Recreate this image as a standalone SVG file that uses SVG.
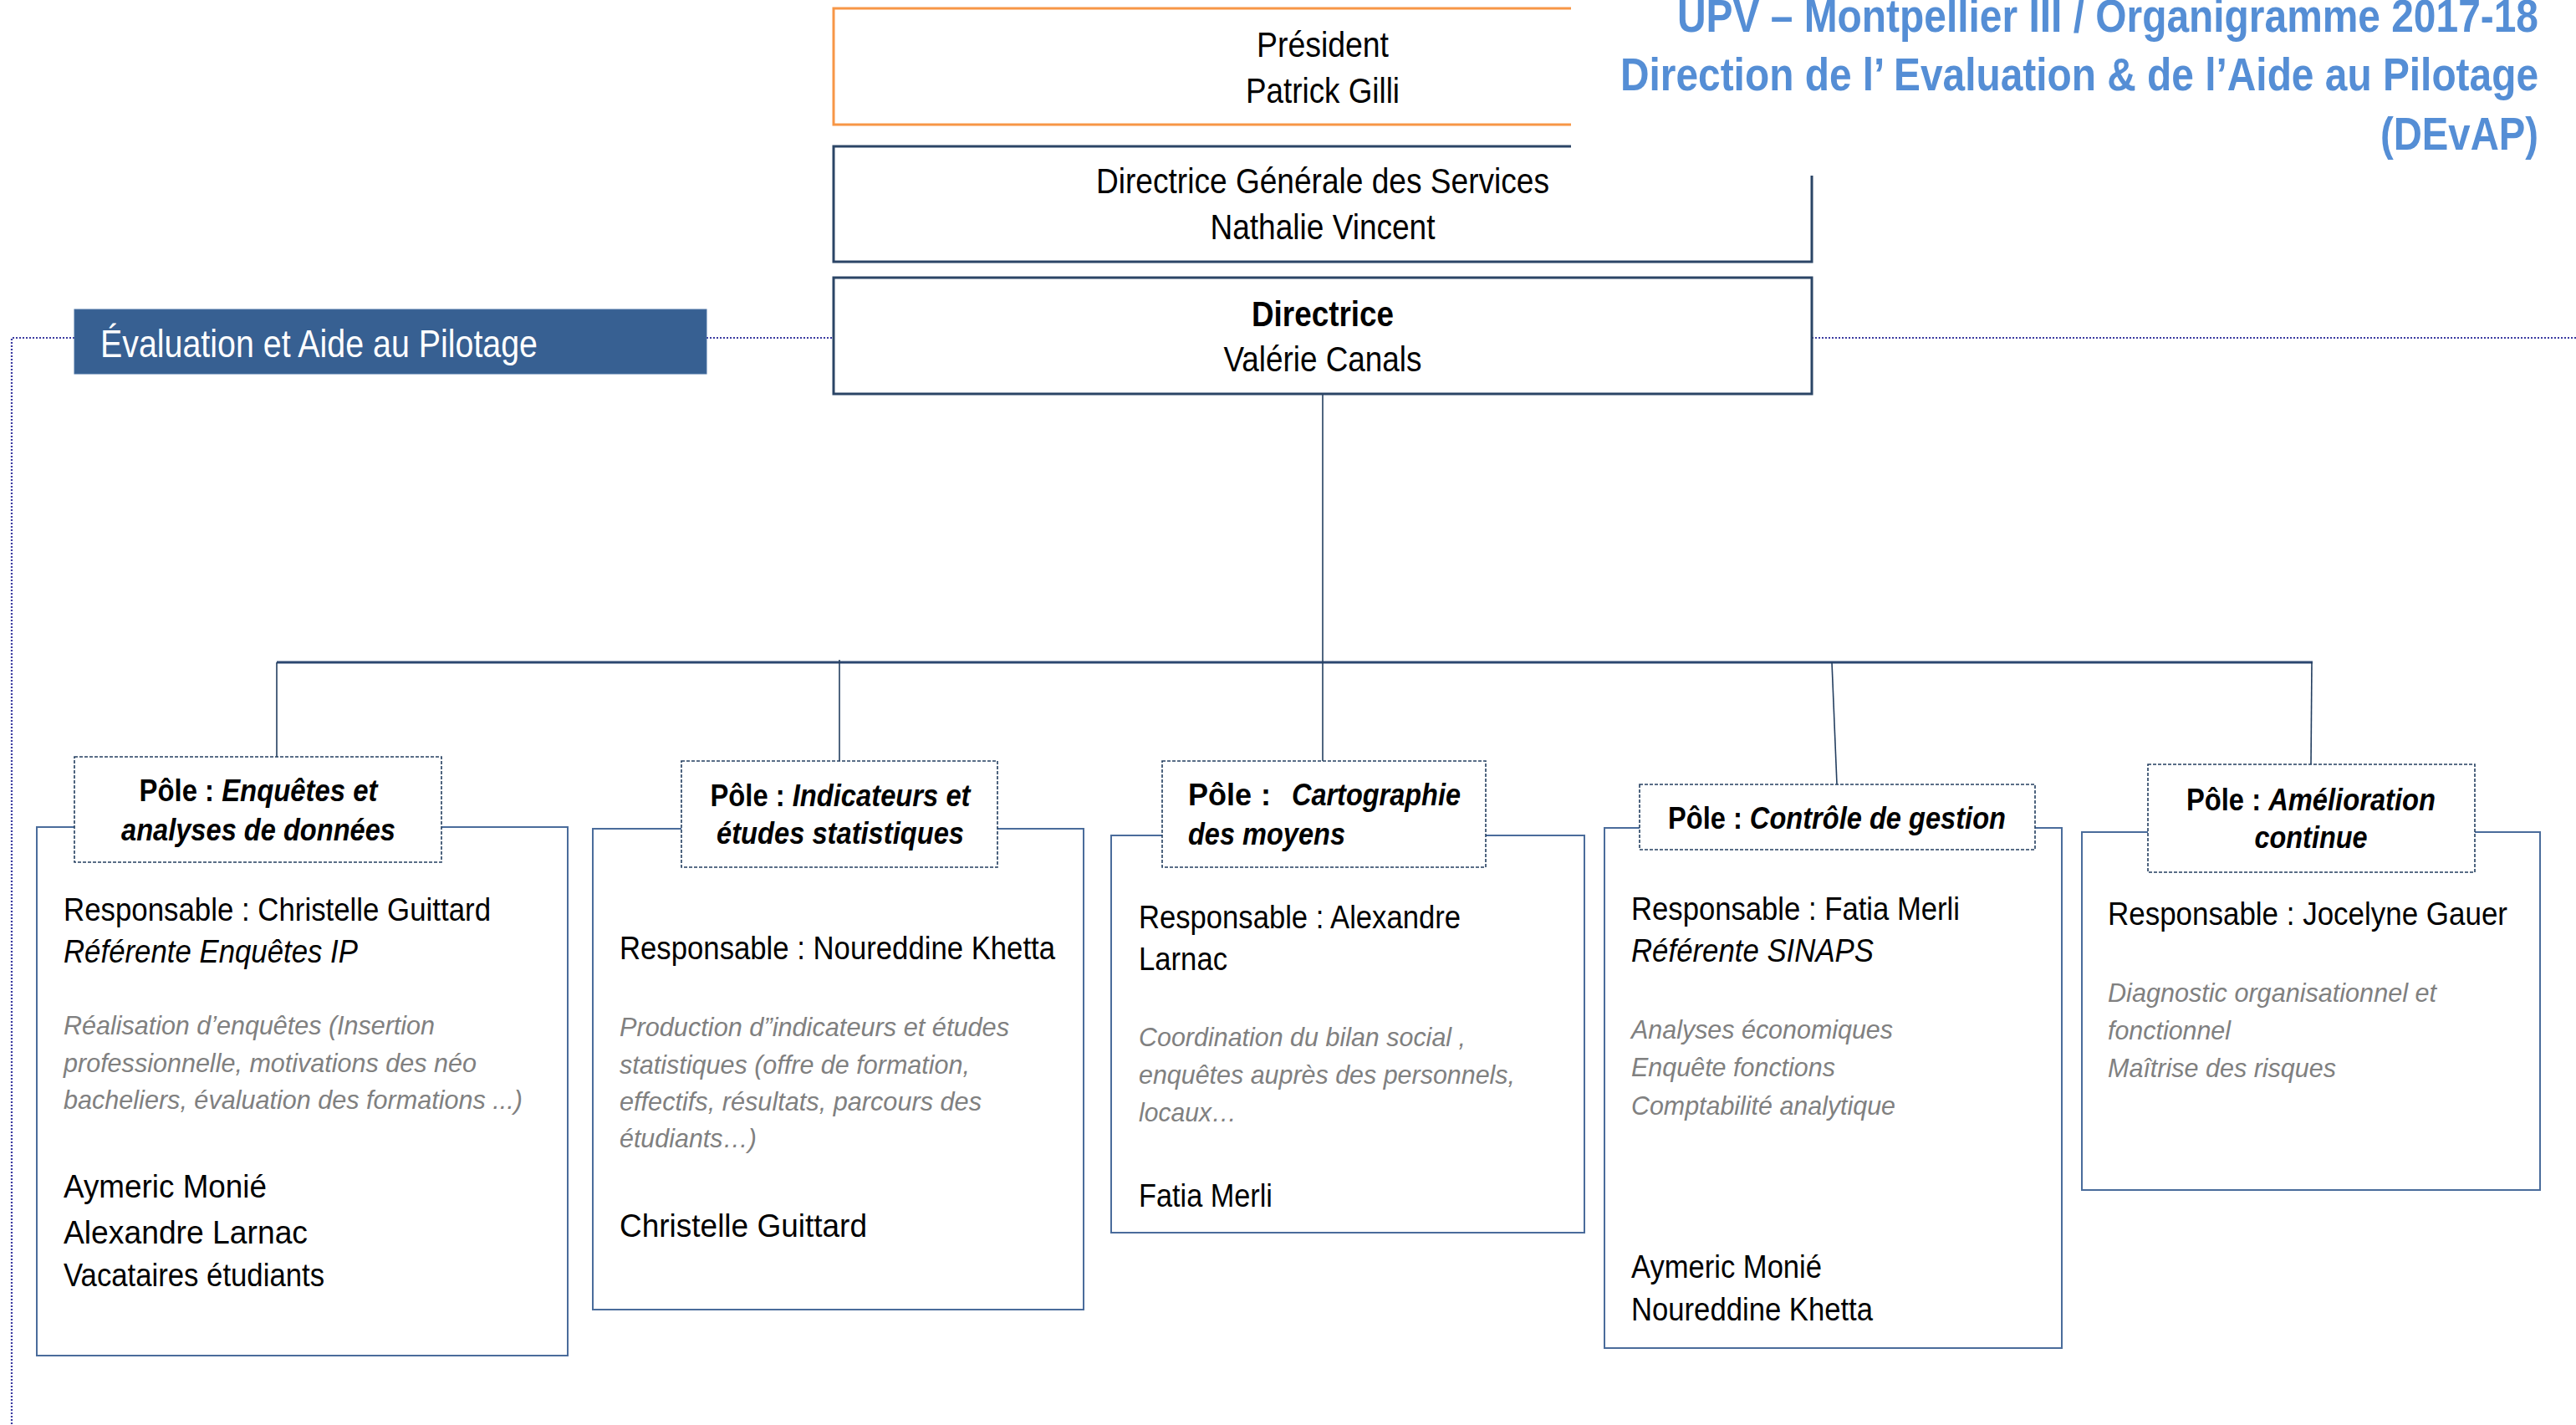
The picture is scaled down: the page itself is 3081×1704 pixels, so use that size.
<svg xmlns="http://www.w3.org/2000/svg" width="3081" height="1704" viewBox="0 0 3081 1704">
<defs>
<style>
.n{font-family:'Liberation Sans Narrow','Liberation Sans',Arial,sans-serif}
.a{font-family:'Liberation Sans',Arial,sans-serif}
.top{font-size:42px;fill:#000;text-anchor:middle}
.b{font-weight:bold}
.i{font-style:italic}
.body{font-size:38px;fill:#000}
.gray{font-size:32px;fill:#808080;font-style:italic}
.hd{font-size:36px;font-weight:bold;fill:#000}
.outer{fill:#fff;stroke:#4A6C9B;stroke-width:2}
.head{fill:#fff;stroke:#243F60;stroke-width:1.6;stroke-dasharray:4 2}
.dir{fill:#fff;stroke:#2B4566;stroke-width:3}
.cn{stroke:#243F60;stroke-width:1.6;fill:none}
.dot{stroke:#3B3BA0;stroke-width:2.2;stroke-dasharray:2 2;fill:none}
.title{font-size:56px;font-weight:bold;fill:#558ED5;text-anchor:end}
</style>
</defs>
<rect width="3081" height="1704" fill="#fff"/>

<g id="connectors">
<polyline class="dot" points="89,404 14,404 14,1704"/>
<line class="dot" x1="845" y1="404" x2="997" y2="404"/>
<line class="dot" x1="2167" y1="404" x2="3081" y2="404"/>
<line x1="331" y1="792" x2="2766" y2="792" stroke="#2C4770" stroke-width="3"/>
<line class="cn" x1="1582" y1="471" x2="1582" y2="910"/>
<line class="cn" x1="331" y1="792" x2="331" y2="905"/>
<line class="cn" x1="1004" y1="789" x2="1004" y2="910"/>
<line class="cn" x1="2191" y1="792" x2="2197" y2="938"/>
<line class="cn" x1="2765" y1="792" x2="2764" y2="914"/>
</g>

<g id="president">
<rect x="997" y="10" width="1170" height="139" fill="#fff" stroke="#F79646" stroke-width="3"/>
<text class="n top" x="1582" y="68" textLength="158" lengthAdjust="spacingAndGlyphs">Président</text>
<text class="n top" x="1582" y="123" textLength="184" lengthAdjust="spacingAndGlyphs">Patrick Gilli</text>
</g>

<g id="dgs">
<rect class="dir" x="997" y="175" width="1170" height="138"/>
<text class="n top" x="1582" y="231" textLength="542" lengthAdjust="spacingAndGlyphs">Directrice Générale des Services</text>
<text class="n top" x="1582" y="286" textLength="269" lengthAdjust="spacingAndGlyphs">Nathalie Vincent</text>
</g>

<g id="directrice">
<rect class="dir" x="997" y="332" width="1170" height="139"/>
<text class="n top b" x="1582" y="390" textLength="170" lengthAdjust="spacingAndGlyphs">Directrice</text>
<text class="n top" x="1582" y="444" textLength="237" lengthAdjust="spacingAndGlyphs">Valérie Canals</text>
</g>

<g id="banner">
<rect x="89" y="370" width="756" height="77" fill="#376092" stroke="#4A72A3" stroke-width="1"/>
<text class="n" x="120" y="427" font-size="46" fill="#fff" textLength="523" lengthAdjust="spacingAndGlyphs">Évaluation et Aide au Pilotage</text>
</g>

<g id="pole1">
<rect class="outer" x="44" y="989" width="635" height="632"/>
<rect class="head" x="89" y="905" width="439" height="126"/>
<text class="a hd" x="309" y="958" text-anchor="middle" textLength="285" lengthAdjust="spacingAndGlyphs">Pôle : <tspan class="i">Enquêtes et</tspan></text>
<text class="a hd i" x="309" y="1005" text-anchor="middle" textLength="328" lengthAdjust="spacingAndGlyphs">analyses de données</text>
<text class="a body" x="76" y="1101" textLength="511" lengthAdjust="spacingAndGlyphs">Responsable : Christelle Guittard</text>
<text class="a body i" x="76" y="1151" textLength="352" lengthAdjust="spacingAndGlyphs">Référente Enquêtes IP</text>
<text class="a gray" x="76" y="1237" textLength="444" lengthAdjust="spacingAndGlyphs">Réalisation d’enquêtes (Insertion</text>
<text class="a gray" x="76" y="1282" textLength="494" lengthAdjust="spacingAndGlyphs">professionnelle, motivations des néo</text>
<text class="a gray" x="76" y="1326" textLength="549" lengthAdjust="spacingAndGlyphs">bacheliers, évaluation des formations ...)</text>
<text class="a body" x="76" y="1432" font-size="40" textLength="243" lengthAdjust="spacingAndGlyphs">Aymeric Monié</text>
<text class="a body" x="76" y="1487" font-size="40" textLength="292" lengthAdjust="spacingAndGlyphs">Alexandre Larnac</text>
<text class="a body" x="76" y="1538" textLength="312" lengthAdjust="spacingAndGlyphs">Vacataires étudiants</text>
</g>

<g id="pole2">
<rect class="outer" x="709" y="991" width="587" height="575"/>
<rect class="head" x="815" y="910" width="378" height="127"/>
<text class="a hd" x="1005" y="964" text-anchor="middle" textLength="311" lengthAdjust="spacingAndGlyphs">Pôle : <tspan class="i">Indicateurs et</tspan></text>
<text class="a hd i" x="1005" y="1009" text-anchor="middle" textLength="296" lengthAdjust="spacingAndGlyphs">études statistiques</text>
<text class="a body" x="741" y="1147" textLength="521" lengthAdjust="spacingAndGlyphs">Responsable : Noureddine Khetta</text>
<text class="a gray" x="741" y="1239" textLength="466" lengthAdjust="spacingAndGlyphs">Production d”indicateurs et études</text>
<text class="a gray" x="741" y="1284" textLength="419" lengthAdjust="spacingAndGlyphs">statistiques (offre de formation,</text>
<text class="a gray" x="741" y="1328" textLength="433" lengthAdjust="spacingAndGlyphs">effectifs, résultats, parcours des</text>
<text class="a gray" x="741" y="1372" textLength="164" lengthAdjust="spacingAndGlyphs">étudiants…)</text>
<text class="a body" x="741" y="1479" font-size="40" textLength="296" lengthAdjust="spacingAndGlyphs">Christelle Guittard</text>
</g>

<g id="pole3">
<rect class="outer" x="1329" y="999" width="566" height="475"/>
<rect class="head" x="1390" y="910" width="387" height="127"/>
<text class="n hd" font-size="36" x="1421" y="963">Pôle</text>
<text class="n hd" font-size="36" x="1508" y="963">:</text>
<text class="n hd i" font-size="36" x="1545" y="963" textLength="202" lengthAdjust="spacingAndGlyphs">Cartographie</text>
<text class="n hd i" font-size="36" x="1421" y="1010" textLength="188" lengthAdjust="spacingAndGlyphs">des moyens</text>
<text class="n body" x="1362" y="1110" font-size="38" textLength="385" lengthAdjust="spacingAndGlyphs">Responsable : Alexandre</text>
<text class="n body" x="1362" y="1160" font-size="38" textLength="106" lengthAdjust="spacingAndGlyphs">Larnac</text>
<text class="n gray" x="1362" y="1251" font-size="32" textLength="391" lengthAdjust="spacingAndGlyphs">Coordination du bilan social ,</text>
<text class="n gray" x="1362" y="1296" font-size="32" textLength="450" lengthAdjust="spacingAndGlyphs">enquêtes auprès des personnels,</text>
<text class="n gray" x="1362" y="1341" font-size="32" textLength="117" lengthAdjust="spacingAndGlyphs">locaux…</text>
<text class="n body" x="1362" y="1443" font-size="38" textLength="160" lengthAdjust="spacingAndGlyphs">Fatia Merli</text>
</g>

<g id="pole4">
<rect class="outer" x="1919" y="990" width="547" height="622"/>
<rect class="head" x="1961" y="938" width="473" height="78"/>
<text class="a hd" x="2197" y="991" text-anchor="middle" textLength="404" lengthAdjust="spacingAndGlyphs">Pôle : <tspan class="i">Contrôle de gestion</tspan></text>
<text class="a body" x="1951" y="1100" textLength="393" lengthAdjust="spacingAndGlyphs">Responsable : Fatia Merli</text>
<text class="a body i" x="1951" y="1150" textLength="290" lengthAdjust="spacingAndGlyphs">Référente SINAPS</text>
<text class="a gray" x="1951" y="1242" textLength="313" lengthAdjust="spacingAndGlyphs">Analyses économiques</text>
<text class="a gray" x="1951" y="1287" textLength="244" lengthAdjust="spacingAndGlyphs">Enquête fonctions</text>
<text class="a gray" x="1951" y="1333" textLength="316" lengthAdjust="spacingAndGlyphs">Comptabilité analytique</text>
<text class="a body" x="1951" y="1528" textLength="228" lengthAdjust="spacingAndGlyphs">Aymeric Monié</text>
<text class="a body" x="1951" y="1579" textLength="289" lengthAdjust="spacingAndGlyphs">Noureddine Khetta</text>
</g>

<g id="pole5">
<rect class="outer" x="2490" y="995" width="548" height="428"/>
<rect class="head" x="2569" y="914" width="391" height="129"/>
<text class="n hd" font-size="36" x="2764" y="969" text-anchor="middle" textLength="298" lengthAdjust="spacingAndGlyphs">Pôle : <tspan class="i">Amélioration</tspan></text>
<text class="n hd i" font-size="36" x="2764" y="1014" text-anchor="middle" textLength="135" lengthAdjust="spacingAndGlyphs">continue</text>
<text class="n body" x="2521" y="1106" font-size="38" textLength="478" lengthAdjust="spacingAndGlyphs">Responsable : Jocelyne Gauer</text>
<text class="n gray" x="2521" y="1198" font-size="32" textLength="393" lengthAdjust="spacingAndGlyphs">Diagnostic organisationnel et</text>
<text class="n gray" x="2521" y="1243" font-size="32" textLength="147" lengthAdjust="spacingAndGlyphs">fonctionnel</text>
<text class="n gray" x="2521" y="1288" font-size="32" textLength="273" lengthAdjust="spacingAndGlyphs">Maîtrise des risques</text>
</g>

<g id="title">
<rect x="1879" y="0" width="1202" height="210" fill="#fff"/>
<text class="n title" x="3036" y="38" textLength="1030" lengthAdjust="spacingAndGlyphs">UPV – Montpellier III / Organigramme 2017-18</text>
<text class="n title" x="3036" y="108" textLength="1098" lengthAdjust="spacingAndGlyphs">Direction de l’ Evaluation &amp; de l’Aide au Pilotage</text>
<text class="n title" x="3036" y="179" textLength="189" lengthAdjust="spacingAndGlyphs">(DEvAP)</text>
</g>
</svg>
